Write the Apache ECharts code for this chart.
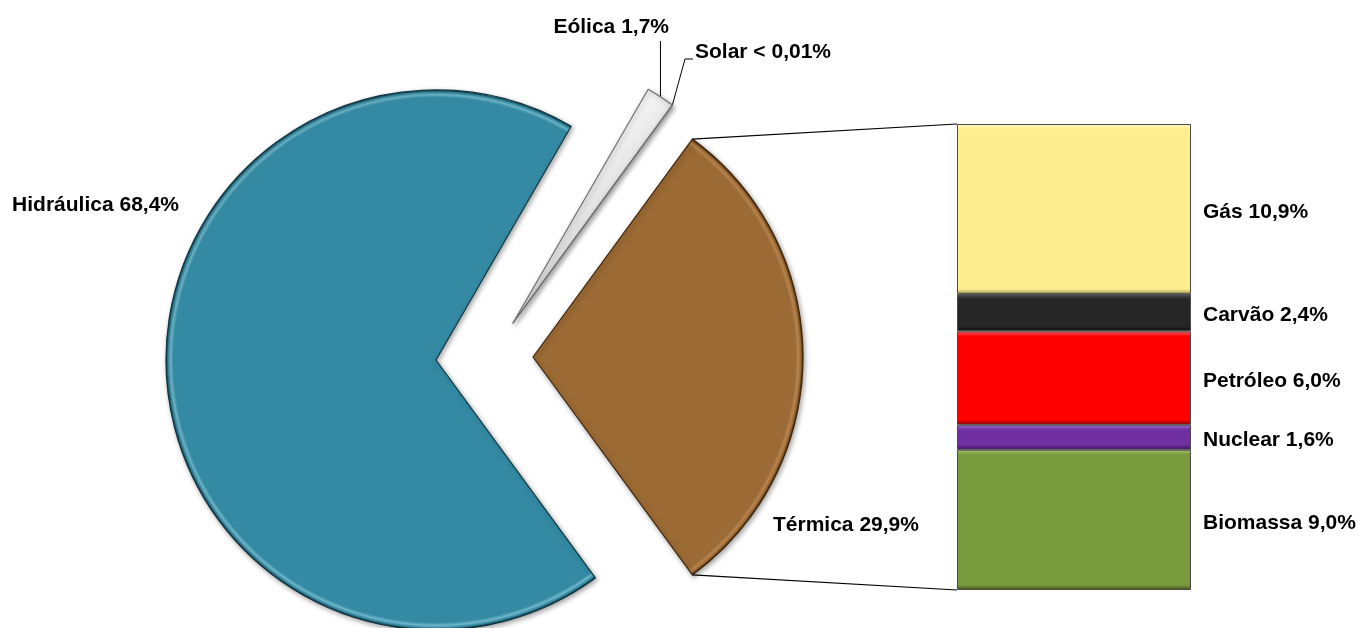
<!DOCTYPE html>
<html><head><meta charset="utf-8">
<script src="https://cdn.jsdelivr.net/npm/echarts@6/dist/echarts.min.js"></script>
<style>html,body{margin:0;padding:0;background:#fff}#c{width:1359px;height:628px}</style>
</head><body><div id="c"></div>
<script>
// ---- data ----
const pieNames = ['Térmica', 'Hidráulica', 'Eólica', 'Solar'];
const pieValues = [29.9, 68.4, 1.7, 0.005];
const pieLabels = ['Térmica 29,9%', 'Hidráulica 68,4%', 'Eólica 1,7%', 'Solar < 0,01%'];
const barNames = ['Gás', 'Carvão', 'Petróleo', 'Nuclear', 'Biomassa'];
const barValues = [10.9, 2.4, 6.0, 1.6, 9.0];
const barLabels = ['Gás 10,9%', 'Carvão 2,4%', 'Petróleo 6,0%', 'Nuclear 1,6%', 'Biomassa 9,0%'];

// ---- styles / layout ----
const R = 270;
const pieColors = ['#9C6A34', '#338AA2', '#F2F2F2', '#BFBFBF'];
const pieLight = ['#B88450', '#6FB6CA', '#FFFFFF', '#DDDDDD'];
const pieRim = ['#3E250B', '#0F3540', '#707070', '#707070'];
const barColors = ['#FFEE90', '#262626', '#FF0000', '#7030A0', '#7A9A3E'];
const barLight = ['#FFF8C8', '#5A5A5A', '#FF6060', '#A070C8', '#A8C070'];
const barDark = ['#A89A50', '#0A0A0A', '#900000', '#3A1060', '#3E5020'];
const FONT = '"Liberation Sans", Arial, sans-serif';
const FS = 21;
const layers = [
  { show: [1], center: [436, 360] },
  { show: [0], center: [533, 357] },
  { show: [2, 3], center: [513, 323] }
];
const labelPos = {
  0: { x: 773, y: 525, align: 'left' },
  1: { x: 179, y: 205, align: 'right' },
  2: { x: 669, y: 27, align: 'right', lineTop: 41 },
  3: { x: 695, y: 52, align: 'left', elbow: [685, 59], end: [693, 59] }
};
const GRID = { left: 957, top: 124, width: 234, height: 466 };

const total = pieValues.reduce((a, b) => a + b, 0);
const startAngle = pieValues[0] / total * 360 / 2;
const barTotal = barValues.reduce((a, b) => a + b, 0);

function sliceFill(i, c) {
  if (i >= 2) {
    return new echarts.graphic.LinearGradient(0, 0, 1, 0.6, [
      { offset: 0, color: '#FFFFFF' }, { offset: 0.5, color: '#F6F6F6' },
      { offset: 0.82, color: '#CFCFCF' }, { offset: 1, color: '#8A8A8A' }]);
  }
  return new echarts.graphic.RadialGradient(c[0], c[1], R, [
    { offset: 0, color: pieColors[i] }, { offset: 0.972, color: pieColors[i] },
    { offset: 0.983, color: pieLight[i] }, { offset: 0.992, color: pieColors[i] },
    { offset: 1, color: pieRim[i] }], true);
}

const series = [];
layers.forEach(function (L) {
  series.push({
    type: 'pie', center: L.center, radius: R, startAngle: startAngle, clockwise: true,
    avoidLabelOverlap: false, silent: true, emphasis: { disabled: true },
    label: { show: false }, labelLine: { show: false },
    data: pieNames.map(function (n, i) {
      const vis = L.show.indexOf(i) >= 0;
      return {
        name: n, value: pieValues[i],
        itemStyle: vis ? {
          color: sliceFill(i, L.center), borderColor: pieRim[i], borderWidth: 1.2,
          shadowBlur: 5, shadowColor: 'rgba(0,0,0,0.35)', shadowOffsetX: 1.5, shadowOffsetY: 2
        } : { color: 'rgba(0,0,0,0)', borderWidth: 0 },
        label: vis ? {
          show: true, position: 'outside', formatter: pieLabels[i],
          color: '#000', fontFamily: FONT, fontWeight: 'bold', fontSize: FS
        } : { show: false },
        labelLine: { show: vis && i >= 2, smooth: false, lineStyle: { color: '#000', width: 1 } }
      };
    }),
    labelLayout: function (p) {
      const i = p.dataIndex, lp = labelPos[i];
      if (!lp) return {};
      const out = { x: lp.x, y: lp.y, align: lp.align, verticalAlign: 'middle' };
      if (p.labelLinePoints && p.labelLinePoints.length) {
        const p0 = p.labelLinePoints[0];
        if (i === 2) out.labelLinePoints = [p0, [p0[0], lp.lineTop], [p0[0], lp.lineTop]];
        if (i === 3) out.labelLinePoints = [p0, lp.elbow, lp.end];
      }
      return out;
    }
  });
});

barNames.forEach(function (n, i) {
  const hpx = barValues[i] * GRID.height / barTotal;
  const f = Math.min(0.3, 5 / hpx);
  series.push({
    type: 'bar', name: n, stack: 'termica', data: [barValues[i]],
    barWidth: '100%', silent: true,
    itemStyle: {
      color: new echarts.graphic.LinearGradient(0, 0, 0, 1, [
        { offset: 0, color: barLight[i] }, { offset: f, color: barColors[i] },
        { offset: 1 - f, color: barColors[i] }, { offset: 1, color: barDark[i] }]),
      borderColor: '#4A4A4A', borderWidth: 1
    },
    label: {
      show: true, position: 'right', distance: 12, offset: [0, 3], formatter: barLabels[i],
      color: '#000', fontFamily: FONT, fontWeight: 'bold', fontSize: FS
    }
  });
});

const chart = echarts.init(document.getElementById('c'), null, { renderer: 'canvas' });
chart.setOption({
  animation: false,
  backgroundColor: '#ffffff',
  grid: GRID,
  xAxis: { type: 'category', data: ['Térmica'], show: false },
  yAxis: { type: 'value', inverse: true, min: 0, max: barTotal, show: false },
  series: series
});

// connector lines from Térmica slice corners to the stacked column
(function () {
  const model = chart.getModel();
  const sl = model.getSeriesByIndex(1).getData().getItemLayout(0);
  const a = [sl.cx + sl.r * Math.cos(sl.startAngle), sl.cy + sl.r * Math.sin(sl.startAngle)];
  const b = [sl.cx + sl.r * Math.cos(sl.endAngle), sl.cy + sl.r * Math.sin(sl.endAngle)];
  const top = model.getSeriesByIndex(3).getData().getItemLayout(0);
  const bot = model.getSeriesByIndex(3 + barNames.length - 1).getData().getItemLayout(0);
  const topY = Math.min(top.y, top.y + top.height);
  const botY = Math.max(bot.y, bot.y + bot.height);
  const pts = [[a, [top.x, topY]], [b, [bot.x, botY]]];
  chart.setOption({
    graphic: pts.map(function (p) {
      return { type: 'line', silent: true, z: 100,
        shape: { x1: p[0][0], y1: p[0][1], x2: p[1][0], y2: p[1][1] },
        style: { stroke: '#000', lineWidth: 1.2 } };
    })
  });
})();
</script></body></html>
